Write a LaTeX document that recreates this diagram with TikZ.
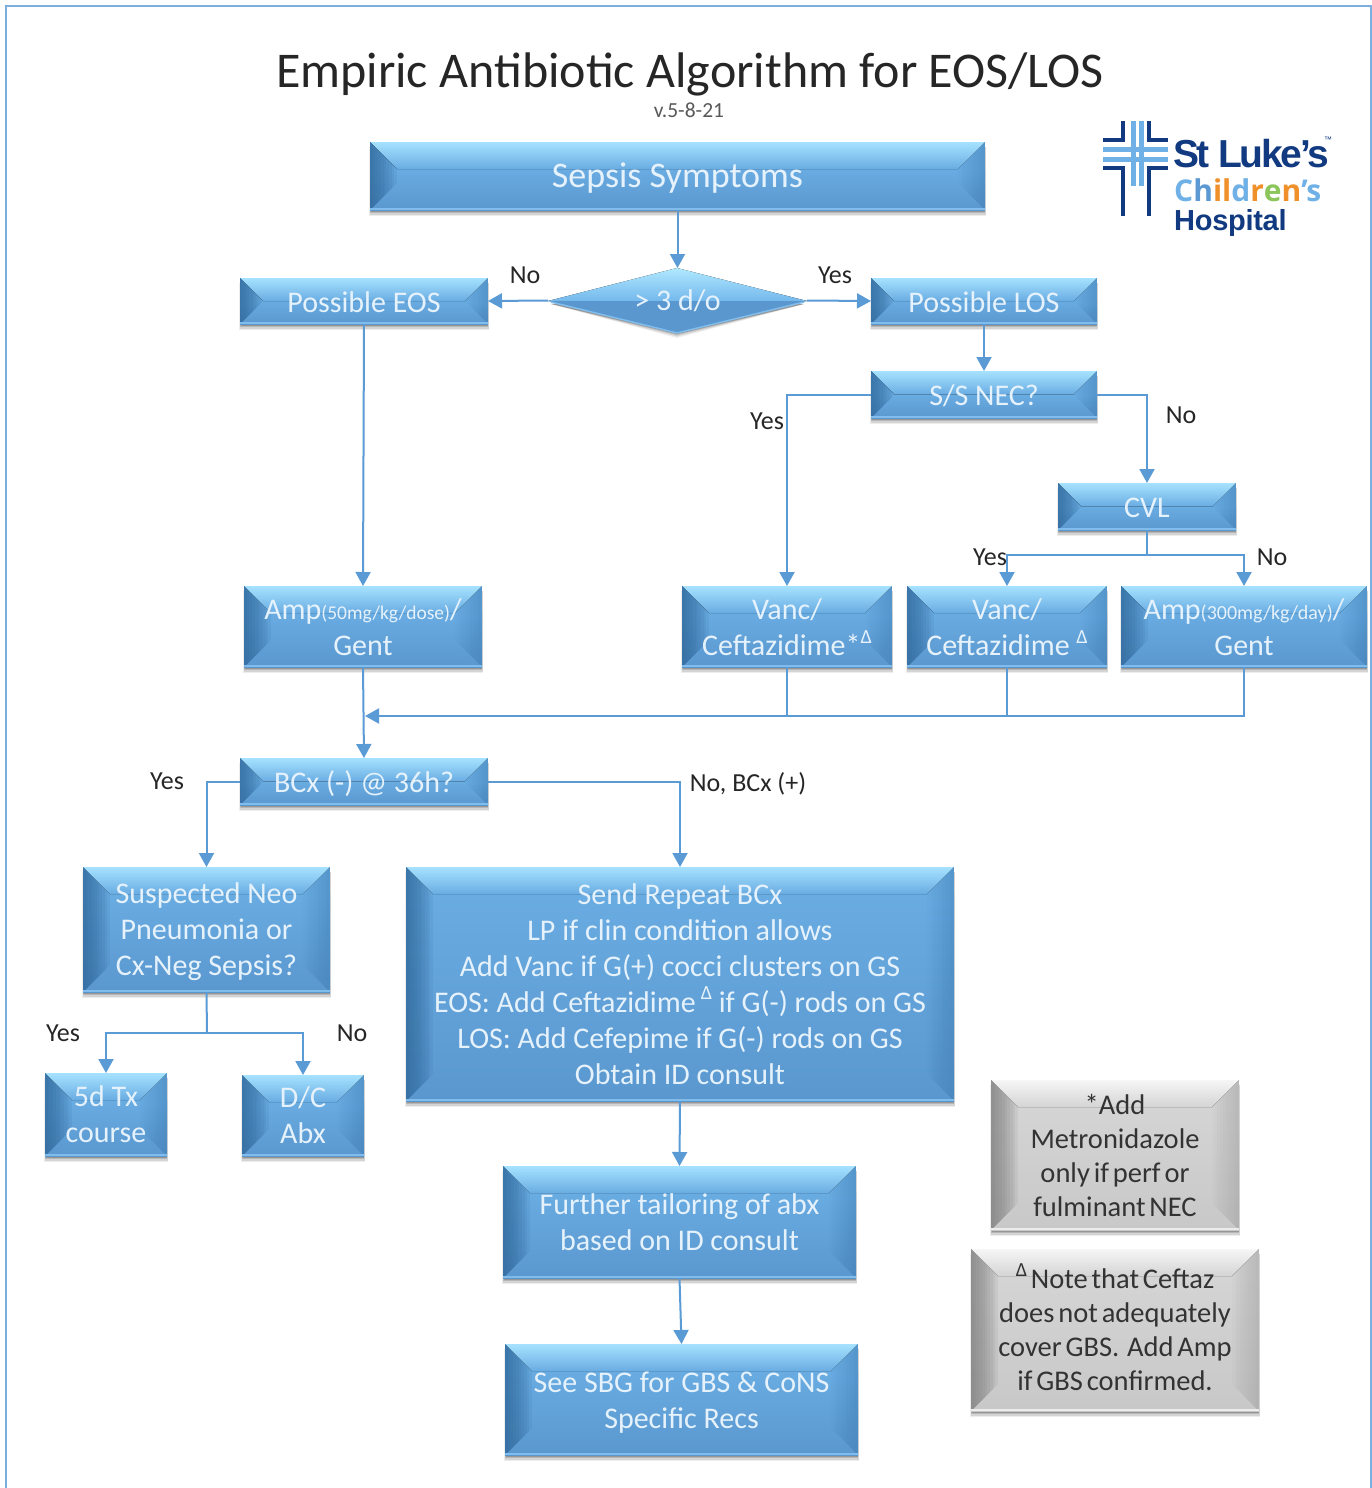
\documentclass[tikz,border=0pt]{standalone}
\usepackage{fontspec}
\setmainfont{Carlito}
\newfontfamily\logofont{Liberation Sans}
\newfontfamily\kidfont{Open Sans}
\newfontfamily\greyfont[WordSpace=0.6]{Carlito}
\usetikzlibrary{arrows.meta,shapes.geometric,calc}
\definecolor{blT}{HTML}{A6E2FF}\definecolor{blTb}{HTML}{69ACE2}
\definecolor{blFa}{HTML}{69ACE2}\definecolor{blFb}{HTML}{5A97CF}
\definecolor{blL}{HTML}{2C6496}\definecolor{blR}{HTML}{3A76AE}\definecolor{blE}{HTML}{80BDEC}
\definecolor{grT}{HTML}{F6F6F6}\definecolor{grTb}{HTML}{D4D4D4}
\definecolor{grFa}{HTML}{D4D4D4}\definecolor{grFb}{HTML}{C8C8C8}
\definecolor{grL}{HTML}{787878}\definecolor{grR}{HTML}{909090}\definecolor{grE}{HTML}{ECECEC}
\definecolor{linkc}{HTML}{5B9BD5}\definecolor{navy}{HTML}{123A80}
\definecolor{sky}{HTML}{6FB1E6}\definecolor{boxtext}{HTML}{E6F2FB}
\definecolor{kidor}{HTML}{F0902A}\definecolor{kidgr}{HTML}{8CC65A}
\definecolor{diaT}{HTML}{B0E8FF}\definecolor{diaB}{HTML}{74B8EC}
\tikzset{
  x=1pt,y=-1pt,
  link/.style={draw=linkc,line width=2pt},
  arrowlink/.style={link,-{Triangle[length=14pt,width=15pt]}},
  boxlabel/.style={inner sep=0pt,outer sep=0pt,align=center,font=\fontsize{30}{36}\selectfont,text=boxtext},
  graylabel/.style={boxlabel,font=\greyfont\fontsize{28.5}{34}\selectfont,text=black!80},
  caption/.style={inner sep=0pt,font=\fontsize{26}{30}\selectfont,text=black!85},
  crossdark/.style={draw=navy,line width=4.5pt},
  crosslight/.style={draw=sky,line width=5pt},
}
% #1 palette, #2 name, #3-#6 box, #7 label style, #8 text
\newcommand\bevelbox[8]{%
  \pgfmathsetmacro\bw{#5-#3}\pgfmathsetmacro\bh{#6-#4}%
  \pgfmathsetmacro\ins{min(\bh/2,27)}%
  \pgfmathsetmacro\xa{#3+\ins}\pgfmathsetmacro\xb{#5-\ins}%
  \pgfmathsetmacro\ya{#4+\ins}\pgfmathsetmacro\yb{#6-\ins}%
  \foreach \e/\o in {6/.07,4.5/.10,3/.14,1.5/.18}{%
    \fill[black,opacity=\o] (#3+1-\e/3,#4+5) rectangle (#5-1+\e/3,#6+\e);}%
  \fill[#1Fa] (#3,#4) rectangle (#5,\ya);%
  \fill[top color=#1Fa,bottom color=#1Fb] (#3,\ya) rectangle (#5,#6);%
  \fill[top color=#1T,bottom color=#1Tb] (#3,#4)--(#5,#4)--(\xb,\ya)--(\xa,\ya)--cycle;%
  \begin{scope}\clip (#3,#4)--(\xa,\ya)--(\xa,\yb)--(#3,#6)--cycle;%
    \foreach \i in {1,...,10}{\fill[#1L,opacity=.11] (#3,#4) rectangle ({#3+\ins*\i/10},#6);}%
  \end{scope}%
  \begin{scope}\clip (#5,#4)--(\xb,\ya)--(\xb,\yb)--(#5,#6)--cycle;%
    \foreach \i in {1,...,10}{\fill[#1R,opacity=.04] (#5,#4) rectangle ({#5-\ins*\i/10},#6);}%
  \end{scope}%
  \fill[#1E] (#3,#6-2) rectangle (#5,#6);%
  \node[#7,minimum width=\bw pt,minimum height=\bh pt] (#2) at ({(#3+#5)/2},{(#4+#6)/2}) {#8};%
}
\newcommand\dlt{\raisebox{.42em}[0pt][0pt]{\fontsize{20}{20}\selectfont Δ}}
\newcommand\dosea[1]{{\fontsize{19.5}{20}\selectfont #1}}
\newcommand\doseb[1]{{\fontsize{20}{20}\selectfont #1}}
\newcommand\lowered[2]{\raisebox{0pt}[\dimexpr\height+#1pt+#1pt\relax][\depth]{\begin{tabular}[c]{@{}c@{}}#2\end{tabular}}}
\begin{document}
\begin{tikzpicture}
\useasboundingbox (0,0) rectangle (1372,1488);
\fill[white] (0,0) rectangle (1372,1488);
\draw[linkc!80,line width=1.2pt] (6,1488) -- (6,6) -- (1371,6) -- (1371,1488);

\node[inner sep=0pt,font=\fontsize{50}{56}\selectfont,text=black!85] (title) at (690,74) {Empiric Antibiotic Algorithm for EOS/LOS};
\node[inner sep=0pt,font=\fontsize{21.5}{24}\selectfont,text=black!65] (version) at (689,110) {v.5-8-21};

% logo
\draw[crosslight] (1133,121) -- (1133,186);
\draw[crosslight] (1141,121) -- (1141,186);
\draw[crosslight] (1103,149) -- (1168,149);
\draw[crosslight] (1103,159) -- (1168,159);
\draw[crossdark] (1103,140) -- (1123,140) -- (1123,121);
\draw[crossdark] (1168,140) -- (1149,140) -- (1149,121);
\draw[crossdark] (1103,168) -- (1123,168) -- (1123,216);
\draw[crossdark] (1168,168) -- (1149,168) -- (1149,216);
\node[inner sep=0pt,anchor=west,text=navy,font=\logofont\bfseries\fontsize{39}{40}\selectfont] (stluke) at (1173,154) {\addfontfeature{LetterSpace=-6}St Luke’s};
\node[inner sep=0pt,text=navy,font=\logofont\fontsize{8}{8}\selectfont] (tm) at (1328,140) {™};
\node[inner sep=0pt,anchor=west,font=\kidfont\bfseries\fontsize{30}{30}\selectfont] (kids) at (1174,190) {\addfontfeature{LetterSpace=-2}\textcolor{sky}{C}\textcolor{sky!80!navy}{h}\textcolor{kidor}{i}\textcolor{kidor}{l}\textcolor{sky}{d}\textcolor{kidor}{r}\textcolor{kidgr}{e}\textcolor{kidor}{n}\textcolor{sky}{’s}};
\node[inner sep=0pt,anchor=west,text=navy,font=\logofont\bfseries\fontsize{29}{29}\selectfont] (hosp) at (1174,223) {\addfontfeature{LetterSpace=-1}Hospital};

% boxes
\bevelbox{bl}{sepsis}{370}{142}{985}{210}{boxlabel,font=\fontsize{36}{40}\selectfont}{\lowered{3}{Sepsis Symptoms}}
\bevelbox{bl}{eos}{240}{278}{488}{324}{boxlabel}{\lowered{4}{Possible EOS}}
\bevelbox{bl}{los}{871}{278}{1097}{324}{boxlabel}{\lowered{4}{Possible LOS}}
\bevelbox{bl}{nec}{871}{371}{1097}{418}{boxlabel}{\lowered{4}{S/S NEC?}}
\bevelbox{bl}{cvl}{1058}{483}{1236}{530}{boxlabel}{\lowered{4}{CVL}}
\bevelbox{bl}{ampa}{244}{586}{482}{667}{boxlabel}{\lowered{4}{Amp\dosea{(50mg/kg/dose)}/\\Gent}}
\bevelbox{bl}{vanca}{682}{586}{892}{667}{boxlabel}{\lowered{4}{Vanc/\\Ceftazidime*\dlt}}
\bevelbox{bl}{vancb}{907}{586}{1107}{667}{boxlabel}{\lowered{4}{Vanc/\\Ceftazidime \dlt}}
\bevelbox{bl}{ampb}{1121}{586}{1367}{667}{boxlabel}{\lowered{4}{Amp\doseb{(300mg/kg/day)}/\\Gent}}
\bevelbox{bl}{bcx}{240}{758}{488}{805}{boxlabel}{\lowered{4}{BCx (-) @ 36h?}}
\bevelbox{bl}{neo}{83}{867}{330}{992}{boxlabel}{\lowered{3}{Suspected Neo\\Pneumonia or\\Cx-Neg Sepsis?}}
\bevelbox{bl}{send}{406}{867}{954}{1101}{boxlabel}{Send Repeat BCx\\LP if clin condition allows\\Add Vanc if G(+) cocci clusters on GS\\EOS: Add Ceftazidime\,\dlt\ if G(-) rods on GS\\LOS: Add Cefepime if G(-) rods on GS\\Obtain ID consult}
\bevelbox{bl}{five}{45}{1073}{167}{1156}{boxlabel}{5d Tx\\course}
\bevelbox{bl}{dc}{242}{1075}{364}{1156}{boxlabel}{D/C\\Abx}
\bevelbox{bl}{further}{503}{1166}{856}{1278}{boxlabel}{Further tailoring of abx\\based on ID consult}
\bevelbox{bl}{sbg}{505}{1344}{858}{1455}{boxlabel}{\lowered{4}{See SBG for GBS \& CoNS\\Specific Recs}}
\bevelbox{gr}{notea}{991}{1080}{1239}{1230}{graylabel}{*Add\\Metronidazole\\only if perf or\\fulminant NEC}
\bevelbox{gr}{noteb}{971}{1249}{1259}{1411}{graylabel}{\dlt\ Note that Ceftaz\\does not adequately\\cover GBS.\ \ Add Amp\\if GBS confirmed.}

% diamond
\foreach \e/\o in {5/.07,3.5/.10,2/.14,1/.18}{\fill[black,opacity=\o] (551,304) -- (677,300) -- (804,304) -- (677,333+\e) -- cycle;}
\fill[top color=diaT,bottom color=diaB] (548,301) -- (677,268) -- (807,301) -- cycle;
\fill[blFb] (548,301) -- (677,333) -- (807,301) -- cycle;
\draw[blE,line width=1.5pt] (551,302) -- (677,333) -- (804,302);
\node[diamond,shape aspect=3.98,minimum width=259pt,minimum height=65pt,inner sep=0pt,outer sep=0pt,font=\fontsize{30}{36}\selectfont,text=boxtext] (dia) at (677.5,300.5) {> 3 d/o};

% connectors
\coordinate (cvlj) at (1147,555);
\coordinate (merge) at (365,716);
\coordinate (neoj) at (207,1033);
\draw[arrowlink] (sepsis.south) -- (dia.north);
\draw[arrowlink] (dia.west) -- (eos.east);
\draw[arrowlink] (dia.east) -- (los.west);
\draw[arrowlink] (los.south) -- (nec.north);
\draw[arrowlink] (nec.west) -| (vanca.north);
\draw[arrowlink] (nec.east) -| (cvl.north);
\draw[link] (cvl.south) -- (cvlj);
\draw[arrowlink] (cvlj) -| (vancb.north);
\draw[arrowlink] (cvlj) -| (ampb.north);
\draw[arrowlink] (eos.south) -- (ampa.north);
\draw[arrowlink] (ampa.south) -- (bcx.north);
\draw[arrowlink] (ampb.south) |- (merge);
\draw[link] (vanca.south) -- (vanca.south |- merge);
\draw[link] (vancb.south) -- (vancb.south |- merge);
\draw[arrowlink] (bcx.west) -| (neo.north);
\draw[arrowlink] (bcx.east) -| (send.north);
\draw[link] (neo.south) -- (neoj);
\draw[arrowlink] (neoj) -| (five.north);
\draw[arrowlink] (neoj) -| (dc.north);
\draw[arrowlink] (send.south) -- (further.north);
\draw[arrowlink] (further.south) -- (sbg.north);

% captions
\node[caption] (c1) at (525,275) {No};
\node[caption] (c2) at (835,275) {Yes};
\node[caption] (c3) at (767,421) {Yes};
\node[caption] (c4) at (1181,415) {No};
\node[caption] (c5) at (990,557) {Yes};
\node[caption] (c6) at (1272,557) {No};
\node[caption] (c7) at (167,781) {Yes};
\node[caption] (c8) at (748,784) {No, BCx (+)};
\node[caption] (c9) at (63,1033) {Yes};
\node[caption] (c10) at (352,1033) {No};
\end{tikzpicture}
\end{document}
